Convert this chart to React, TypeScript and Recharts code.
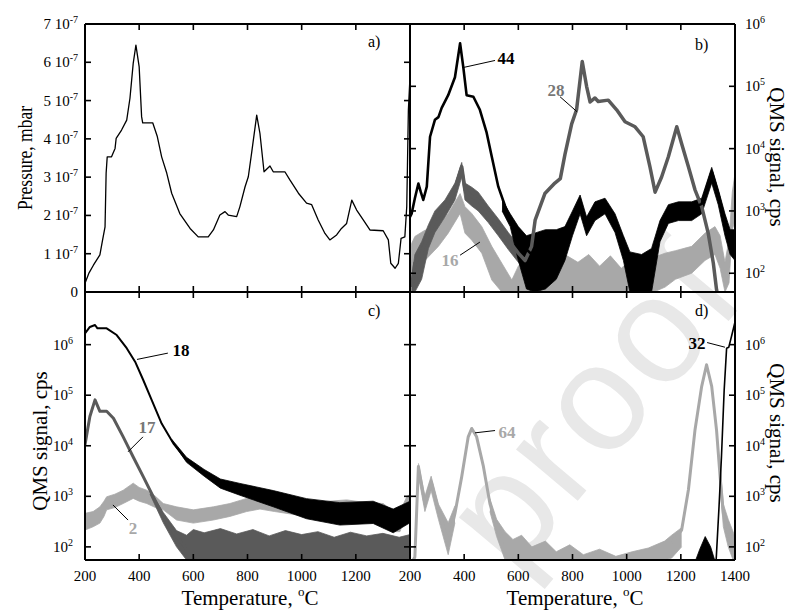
import React from 'react';
import { ComposedChart, Line, Area, XAxis, YAxis, ReferenceLine, ReferenceDot } from 'recharts';

type P2 = [number, number];
type P3 = [number, number, number];

// ---------- axes ----------
const tempTicks = [200, 400, 600, 800, 1000, 1200, 1400];
const pressureTicks = [0, 1, 2, 3, 4, 5, 6, 7]; // x 1e-7 mbar
const logTicks = [100, 1000, 10000, 100000, 1000000];
const logDomainB: [number, number] = [50, 1000000];
const logDomainCD: [number, number] = [55, 11000000];

// ---------- a) pressure, units of 1e-7 mbar ----------
const pressure: P2[] = [[200,0.23],[215,0.5],[231,0.7],[255,0.97],[265,1.36],[274,1.7],[278,3.1],[282,3.53],[298,3.53],[311,3.75],[315,4.01],[335,4.23],[354,4.49],[366,5.06],[378,5.97],[388,6.45],[400,5.88],[409,4.58],[413,4.42],[450,4.42],[467,4.06],[483,3.53],[502,3.1],[520,2.58],[550,2.05],[588,1.66],[618,1.44],[655,1.44],[674,1.62],[698,2.01],[717,2.1],[729,2.01],[760,1.97],[772,2.23],[791,2.75],[803,3.01],[815,3.62],[834,4.62],[846,4.14],[861,3.14],[883,3.29],[895,3.14],[938,3.14],[957,2.92],[988,2.58],[1018,2.32],[1037,2.28],[1061,1.88],[1086,1.53],[1104,1.36],[1129,1.49],[1147,1.66],[1166,1.79],[1185,2.4],[1203,2.14],[1228,1.88],[1252,1.62],[1301,1.6],[1320,1.36],[1329,0.75],[1345,0.62],[1357,0.75],[1367,1.4],[1381,1.44],[1388,2.23],[1394,4.75],[1400,5.62]];

// ---------- b) QMS m/z 44, 28, 16 ----------
const m44Line: P2[] = [[200,800],[206,900],[218,1600],[231,2750],[240,2000],[249,1500],[262,2450],[274,15500],[292,29000],[305,32000],[317,45000],[341,72000],[366,140000],[385,490000],[397,200000],[409,72000],[434,68000],[458,42000],[483,18000],[502,7400],[526,2450],[551,1200],[588,490],[618,270],[650,200],[700,230],[772,400],[800,700],[828,1500],[852,560],[883,1100],[920,1300],[957,700],[988,340],[1012,140],[1055,100],[1092,130],[1123,560],[1154,1000],[1191,1100],[1240,1100],[1277,1300],[1314,4300],[1338,1900],[1363,700],[1382,390],[1400,330]];
const m44Band: P3[] = [[540,1000,1500],[570,560,900],[600,160,560],[630,56,400],[660,50,440],[700,56,500],[740,80,500],[772,160,560],[800,400,1000],[828,900,1800],[852,400,800],[883,700,1400],[920,900,1600],[957,450,900],[988,160,400],[1012,50,220],[1055,50,200],[1092,50,250],[1123,320,700],[1154,630,1260],[1191,700,1400],[1240,700,1400],[1277,900,1600],[1314,2800,5000],[1338,1260,2240],[1363,400,900],[1382,200,500],[1400,160,500]];
const m28Line: P2[] = [[206,60],[218,145],[243,210],[268,440],[292,710],[329,1170],[366,2200],[391,5100],[403,2200],[428,1700],[452,1500],[489,910],[526,560],[563,340],[600,210],[625,160],[649,270],[662,710],[698,1900],[735,2800],[755,3300],[772,8000],[797,25000],[815,42000],[836,250000],[852,100000],[865,56000],[883,65000],[895,57000],[932,60000],[963,42000],[994,27000],[1031,22400],[1061,15500],[1086,5100],[1105,2000],[1129,3500],[1154,7400],[1185,22400],[1203,12000],[1228,5100],[1252,2200],[1277,1170],[1301,440],[1320,145],[1332,54],[1345,30]];
const m28Band: P3[] = [[206,50,80],[218,50,200],[243,80,320],[268,250,600],[292,450,1000],[329,800,1500],[366,1500,2800],[391,3500,6000],[403,1500,2800],[428,1200,2400],[452,1000,2000],[489,650,1200],[526,400,750],[563,240,450],[600,150,280],[625,110,210],[649,200,350]];
const m16Band: P3[] = [[200,50,50],[206,50,300],[218,54,390],[255,160,490],[305,270,560],[341,440,910],[385,910,1900],[403,440,1170],[428,340,910],[465,210,560],[502,78,270],[539,50,145],[576,50,78],[600,50,130],[620,50,160],[660,50,120],[700,50,180],[740,50,140],[780,50,190],[820,50,150],[860,50,200],[900,50,130],[940,50,190],[980,50,120],[1020,50,170],[1060,50,130],[1100,50,180],[1142,60,210],[1180,80,230],[1240,100,270],[1289,160,440],[1326,200,560],[1345,120,400],[1363,50,150],[1378,70,350],[1390,500,2000],[1400,700,4000]];

// ---------- c) QMS m/z 18, 17, 2 ----------
const m18Line: P2[] = [[200,1660000],[218,2240000],[237,2450000],[246,2100000],[255,2100000],[280,2100000],[317,1550000],[354,850000],[385,460000],[415,200000],[446,81000],[483,27500],[526,11200],[575,5200],[637,2900],[698,1800],[772,1400],[895,910],[1018,575],[1141,460],[1264,500],[1338,340],[1400,500]];
const m18Band: P3[] = [[520,12500,13500],[575,4700,5900],[640,2500,3400],[700,1450,2200],[772,1050,1800],[895,620,1300],[1018,360,900],[1141,270,750],[1264,290,800],[1338,190,560],[1400,300,800]];
const m17Line: P2[] = [[200,10500],[218,38000],[237,81000],[255,48000],[280,48000],[305,35000],[341,15000],[378,6000],[415,2450],[452,980],[489,400],[538,160],[575,90]];
const m17Band: P3[] = [[440,1100,1300],[489,300,480],[538,100,210],[575,55,170],[600,50,220],[640,50,190],[700,50,230],[760,50,180],[820,50,220],[880,50,165],[940,50,210],[1000,50,175],[1060,50,200],[1120,50,155],[1180,50,195],[1240,50,165],[1300,50,185],[1360,50,155],[1400,50,175]];
const m2Band: P3[] = [[200,215,460],[230,250,500],[255,295,620],[270,400,800],[280,540,980],[310,600,1100],[341,720,1320],[378,910,1820],[400,800,1500],[428,720,1320],[460,600,1000],[489,540,720],[538,340,620],[600,295,540],[674,340,620],[735,400,720],[797,500,910],[846,560,980],[900,500,900],[1018,400,720],[1100,450,800],[1166,500,850],[1230,450,760],[1301,380,720],[1340,200,500],[1363,200,500],[1388,500,980],[1400,600,1100]];

// ---------- d) QMS m/z 64, 32 ----------
const m64LineLow: P2[] = [[212,55],[218,63],[231,3900],[255,720],[278,1950],[305,540],[341,120],[366,460],[391,2450],[415,15000],[428,22000],[446,15000],[471,3900],[495,720],[520,250],[551,120]];
const m64LineHigh: P2[] = [[1166,120],[1203,215],[1228,1350],[1252,20000],[1277,150000],[1295,400000],[1314,150000],[1332,20000],[1345,2450],[1357,460],[1375,215],[1393,100],[1400,70]];
const m64BandLow: P3[] = [[231,2500,4500],[255,500,1000],[278,1300,2500],[305,350,700],[341,70,300],[366,300,650]];
const m64BandFloor: P3[] = [[495,500,900],[520,160,350],[551,55,200],[580,55,140],[612,55,170],[650,55,100],[700,55,130],[740,55,80],[790,55,110],[840,55,70],[900,55,90],[960,55,65],[1020,55,80],[1080,55,95],[1140,55,130],[1166,60,170],[1203,100,240]];
const m64BandTail: P3[] = [[1345,1500,3500],[1357,250,700],[1375,100,350],[1393,55,200],[1400,55,150]];
const m32Line: P2[] = [[1330,50],[1341,620],[1350,6000],[1360,126000],[1369,850000],[1377,890000],[1387,1450000],[1400,2800000]];
const m32Band: P3[] = [[1255,55,55],[1270,55,90],[1290,55,160],[1310,55,100],[1325,55,55]];

// ---------- annotations: [label, textT, textV, fromT, fromV, toT, toV] ----------
type Ann = [string, number, number, number, number, number, number];
const annB: Ann[] = [['44',554,285000,396,200000,514,260000],['28',739,87000,817,39000,754,68000],['16',348,163,458,316,385,195]];
const annC: Ann[] = [['18',554,780000,392,510000,506,680000],['17',429,23500,359,7600,414,15000],['2',377,236,359,339,303,676]];
const annD: Ann[] = [['64',558,18700,440,18000,514,20000],['32',1260,1080000,1363,890000,1297,1100000]];

// ---------- styling ----------
const FONT = '"Liberation Serif", "Times New Roman", serif';
const BLACK = '#000000';
const DARK = '#5a5a5a';
const LIGHT = '#a8a8a8';
const TL = 6;
const tickStroke = { stroke: '#000', strokeWidth: 1.6 };
const axisLine = { stroke: '#000', strokeWidth: 2 };

const toLine = (a: P2[]) => a.map(([T, v]) => ({ T, v }));
const toBand = (a: P3[]) => a.map(([T, lo, hi]) => ({ T, r: [lo, hi] }));

const BottomTick = (p: any, show: boolean, hideVal?: number) => (
  <g>
    <line x1={p.x} y1={p.y} x2={p.x} y2={p.y - TL} {...tickStroke} />
    {show && p.payload.value !== hideVal && (
      <text x={p.x} y={p.y + 21} textAnchor="middle" fontFamily={FONT} fontSize={15} fill="#000">{p.payload.value}</text>
    )}
  </g>
);
const TopTick = (p: any) => (
  <g><line x1={p.x} y1={p.y} x2={p.x} y2={p.y + TL} {...tickStroke} /></g>
);
const PressureTick = (p: any) => {
  const v = p.payload.value;
  return (
    <g>
      <line x1={p.x} y1={p.y} x2={p.x + TL} y2={p.y} {...tickStroke} />
      <text x={p.x - 7} y={p.y + 5} textAnchor="end" fontFamily={FONT} fontSize={15} fill="#000">
        {v === 0 ? '0' : <>{`${v} 10`}<tspan dy={-6} fontSize={10}>-7</tspan></>}
      </text>
    </g>
  );
};
const PlainLeftTick = (p: any) => (
  <g><line x1={p.x} y1={p.y} x2={p.x + TL} y2={p.y} {...tickStroke} /></g>
);
const PlainRightTick = (p: any) => (
  <g><line x1={p.x} y1={p.y} x2={p.x - TL} y2={p.y} {...tickStroke} /></g>
);
const expOf = (v: number) => String(Math.round(Math.log10(v)));
const LogLeftTick = (p: any) => (
  <g>
    <line x1={p.x} y1={p.y} x2={p.x + TL} y2={p.y} {...tickStroke} />
    <text x={p.x - 12} y={p.y + 5} textAnchor="end" fontFamily={FONT} fontSize={15} fill="#000">
      10<tspan dy={-6} fontSize={10}>{expOf(p.payload.value)}</tspan>
    </text>
  </g>
);
const LogRightTick = (p: any) => (
  <g>
    <line x1={p.x} y1={p.y} x2={p.x - TL} y2={p.y} {...tickStroke} />
    <text x={p.x + 10} y={p.y + 5} textAnchor="start" fontFamily={FONT} fontSize={15} fill="#000">
      10<tspan dy={-6} fontSize={10}>{expOf(p.payload.value)}</tspan>
    </text>
  </g>
);

// axes have a 1px thickness (a 0px axis is not drawn); margins compensate
const xAxes = (labels: boolean, hideVal?: number) => [
  <XAxis key="xb" xAxisId="b" type="number" dataKey="T" domain={[200, 1400]} allowDataOverflow ticks={tempTicks} interval={0}
    height={1} tickSize={0} tickMargin={0} tickLine={false} axisLine={axisLine} tick={(p: any) => BottomTick(p, labels, hideVal)} />,
  <XAxis key="xt" xAxisId="t" orientation="top" type="number" dataKey="T" domain={[200, 1400]} allowDataOverflow ticks={tempTicks} interval={0}
    height={1} tickSize={0} tickMargin={0} tickLine={false} axisLine={axisLine} tick={TopTick} />,
];

const yAxes = (domain: [number, number], scale: 'log' | 'linear', ticks: number[], leftTick: any, rightTick: any) => [
  <YAxis key="yl" yAxisId="L" orientation="left" type="number" scale={scale} domain={domain} allowDataOverflow ticks={ticks} interval={0}
    width={1} tickSize={0} tickMargin={0} tickLine={false} axisLine={axisLine} tick={leftTick} />,
  <YAxis key="yr" yAxisId="R" orientation="right" type="number" scale={scale} domain={domain} allowDataOverflow ticks={ticks} interval={0}
    width={1} tickSize={0} tickMargin={0} tickLine={false} axisLine={axisLine} tick={rightTick} />,
];

const lineEl = (key: string, data: P2[], color: string, w: number) => (
  <Line key={key} data={toLine(data)} dataKey="v" xAxisId="b" yAxisId="L" type="linear" stroke={color} strokeWidth={w}
    dot={false} activeDot={false} isAnimationActive={false} strokeLinejoin="round" />
);
const bandEl = (key: string, data: P3[], color: string) => (
  <Area key={key} data={toBand(data)} dataKey="r" xAxisId="b" yAxisId="L" type="linear" stroke={color} strokeWidth={0.8}
    fill={color} fillOpacity={1} dot={false} activeDot={false} isAnimationActive={false} />
);
const annEls = (anns: Ann[], colors: string[]) =>
  anns.flatMap(([txt, tT, tV, fT, fV, eT, eV], i) => [
    <ReferenceLine key={`al${i}`} xAxisId="b" yAxisId="L" segment={[{ x: fT, y: fV }, { x: eT, y: eV }]}
      stroke="#000" strokeWidth={1} ifOverflow="visible" />,
    <ReferenceDot key={`ad${i}`} xAxisId="b" yAxisId="L" x={tT} y={tV} r={0} fill="none" stroke="none" ifOverflow="visible"
      label={(lp: any) => {
        const vb = lp.viewBox || {};
        return (
          <text x={vb.x} y={(vb.y ?? 0) + 6} textAnchor="middle" fontFamily={FONT} fontSize={17} fontWeight="bold" fill={colors[i]}>{txt}</text>
        );
      }} />,
  ]);

const boxStyle: React.CSSProperties = { position: 'absolute', left: 0, top: 0, width: 792, height: 610 };

// plot frames: left 85..410, right 410..735, top 24..292, bottom 292..560
const mA = { top: 23, bottom: 317, left: 84, right: 381 };
const mB = { top: 23, bottom: 317, left: 409, right: 56 };
const mC = { top: 291, bottom: 49, left: 84, right: 381 };
const mD = { top: 291, bottom: 49, left: 409, right: 56 };

export default function App() {
  return (
    <div style={{ position: 'absolute', left: 0, top: 0, width: 792, height: 610, background: '#fff', overflow: 'hidden' }}>
      {/* watermark */}
      <svg style={boxStyle} width={792} height={610}>
        <text x={615} y={444} transform="rotate(-50 615 422)" textAnchor="middle" fontFamily='"Liberation Sans", Arial, sans-serif'
          fontSize={152} fill="#e8e8e8" letterSpacing={4}>proof</text>
      </svg>

      {/* a) */}
      <div style={boxStyle}>
        <ComposedChart width={792} height={610} margin={mA}>
          {xAxes(false)}
          {yAxes([0, 7], 'linear', pressureTicks, PressureTick, PlainRightTick)}
          {lineEl('p', pressure, BLACK, 1.3)}
        </ComposedChart>
      </div>

      {/* b) */}
      <div style={boxStyle}>
        <ComposedChart width={792} height={610} margin={mB}>
          {xAxes(false)}
          {yAxes(logDomainB, 'log', logTicks, PlainLeftTick, LogRightTick)}
          {bandEl('b16', m16Band, LIGHT)}
          {bandEl('b28', m28Band, DARK)}
          {lineEl('l28', m28Line, DARK, 3.5)}
          {bandEl('b44', m44Band, BLACK)}
          {lineEl('l44', m44Line, BLACK, 2.6)}
          {annEls(annB, [BLACK, '#777777', LIGHT])}
        </ComposedChart>
      </div>

      {/* c) */}
      <div style={boxStyle}>
        <ComposedChart width={792} height={610} margin={mC}>
          {xAxes(true, 1400)}
          {yAxes(logDomainCD, 'log', logTicks, LogLeftTick, PlainRightTick)}
          {bandEl('b2', m2Band, LIGHT)}
          {bandEl('b17', m17Band, DARK)}
          {lineEl('l17', m17Line, DARK, 3)}
          {bandEl('b18', m18Band, BLACK)}
          {lineEl('l18', m18Line, BLACK, 2)}
          {annEls(annC, [BLACK, '#777777', LIGHT])}
        </ComposedChart>
      </div>

      {/* d) */}
      <div style={boxStyle}>
        <ComposedChart width={792} height={610} margin={mD}>
          {xAxes(true)}
          {yAxes(logDomainCD, 'log', logTicks, PlainLeftTick, LogRightTick)}
          {bandEl('b64a', m64BandLow, LIGHT)}
          {bandEl('b64b', m64BandFloor, LIGHT)}
          {bandEl('b64c', m64BandTail, LIGHT)}
          {lineEl('l64a', m64LineLow, LIGHT, 3)}
          {lineEl('l64b', m64LineHigh, LIGHT, 3)}
          {bandEl('b32', m32Band, BLACK)}
          {lineEl('l32', m32Line, BLACK, 1.6)}
          {annEls(annD, [LIGHT, BLACK])}
        </ComposedChart>
      </div>

      {/* titles */}
      <svg style={boxStyle} width={792} height={610}>
        <g fontFamily={FONT} fill="#000">
          <text x={25} y={158} transform="rotate(-90 25 158)" textAnchor="middle" dominantBaseline="central" fontSize={20}
            textLength={104} lengthAdjust="spacingAndGlyphs">Pressure, mbar</text>
          <text x={40} y={441} transform="rotate(-90 40 441)" textAnchor="middle" dominantBaseline="central" fontSize={21}>QMS signal, cps</text>
          <text x={777} y={157} transform="rotate(90 777 157)" textAnchor="middle" dominantBaseline="central" fontSize={21}>QMS signal, cps</text>
          <text x={777} y={433} transform="rotate(90 777 433)" textAnchor="middle" dominantBaseline="central" fontSize={21}>QMS signal, cps</text>
          <text x={250} y={605} textAnchor="middle" fontSize={21}>Temperature, <tspan dy={-9} fontSize={13}>o</tspan><tspan dy={9}>C</tspan></text>
          <text x={575} y={605} textAnchor="middle" fontSize={21}>Temperature, <tspan dy={-9} fontSize={13}>o</tspan><tspan dy={9}>C</tspan></text>
          <text x={368} y={47} fontSize={16}>a)</text>
          <text x={695} y={50} fontSize={16}>b)</text>
          <text x={368} y={316} fontSize={16}>c)</text>
          <text x={695} y={316} fontSize={16}>d)</text>
        </g>
      </svg>
    </div>
  );
}
